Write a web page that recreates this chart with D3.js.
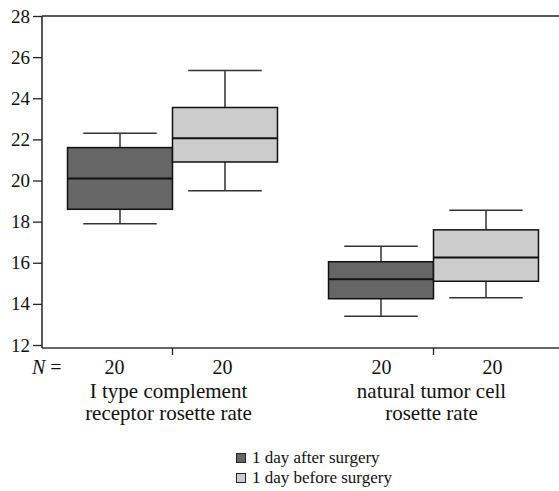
<!DOCTYPE html>
<html>
<head>
<meta charset="utf-8">
<script src="https://cdn.jsdelivr.net/npm/d3@7"></script>
<style>
html,body{margin:0;padding:0;background:#fff;overflow:hidden;}
svg{display:block;overflow:hidden;}
svg text{font-family:"Liberation Serif","DejaVu Serif","Times New Roman",Times,serif;}
</style>
</head>
<body>
<svg id="chart" width="559" height="491"></svg>
<script>
const categories = ["I type complement\nreceptor rosette rate", "natural tumor cell\nrosette rate"];
const seriesNames = ["1 day after surgery", "1 day before surgery"];
const seriesColors = ["#666666", "#cccccc"];
// [whiskerLow, Q1, median, Q3, whiskerHigh] per category
const afterSurgery = [[17.9, 18.6, 20.1, 21.6, 22.3], [13.4, 14.25, 15.2, 16.05, 16.8]];
const beforeSurgery = [[19.5, 20.9, 22.05, 23.55, 25.35], [14.3, 15.1, 16.25, 17.6, 18.55]];
const counts = [[20, 20], [20, 20]];
const yTicks = [12, 14, 16, 18, 20, 22, 24, 26, 28];

(function () {
const FONT = "Liberation Serif, DejaVu Serif, Times New Roman, serif";
const svg = d3.select("#chart");
const mLeft = 42, mRight = 564, mTop = 16, mBottom = 345, axisY = 348;

const x = d3.scaleBand().domain(categories).range([mLeft, mRight]).padding(0);
const xs = d3.scaleBand().domain([0, 1]).range([0, x.bandwidth()]).paddingInner(0).paddingOuter(0.243);
const y = d3.scaleLinear().domain([12, 28]).range([mBottom, mTop]);

const data = [afterSurgery, beforeSurgery];

svg.append("path").attr("d", `M${mLeft},${y(28)}H620`)
  .attr("stroke", "#222").attr("stroke-width", 1.5).attr("fill", "none");
svg.append("path").attr("d", `M${mLeft},${axisY}H620`)
  .attr("stroke", "#333").attr("stroke-width", 1.5).attr("fill", "none");

const yAxis = svg.append("g").attr("transform", `translate(${mLeft},0)`)
  .call(d3.axisLeft(y).tickValues(yTicks).tickSize(9).tickPadding(3).tickFormat(d3.format("d")));
yAxis.attr("font-family", FONT);
yAxis.select(".domain").remove();
yAxis.selectAll(".tick line").attr("stroke", "#222").attr("stroke-width", 1.3);
yAxis.selectAll(".tick text").attr("font-size", 19).attr("fill", "#111")
  .attr("font-family", FONT);
svg.append("line").attr("x1", mLeft).attr("x2", mLeft).attr("y1", y(28)).attr("y2", axisY)
  .attr("stroke", "#222").attr("stroke-width", 1.5);

const xAxis = svg.append("g").attr("transform", `translate(0,${axisY})`)
  .call(d3.axisBottom(x).tickSize(7).tickFormat(""));
xAxis.select(".domain").remove();
xAxis.selectAll(".tick line").attr("stroke", "#222").attr("stroke-width", 1.3);

const countOffsets = [[-58, 50], [-52, 59]];
categories.forEach((cat, ci) => {
  const mid = x(cat) + x.bandwidth() / 2;
  data.forEach((series, si) => {
    const v = series[ci];
    const x0 = x(cat) + xs(si);
    const w = xs.bandwidth();
    const cx = x0 + w / 2;
    const capW = w * 0.7;
    const g = svg.append("g");
    g.append("line").attr("x1", cx).attr("x2", cx).attr("y1", y(v[4])).attr("y2", y(v[3]))
      .attr("stroke", "#333").attr("stroke-width", 1.5);
    g.append("line").attr("x1", cx).attr("x2", cx).attr("y1", y(v[1])).attr("y2", y(v[0]))
      .attr("stroke", "#333").attr("stroke-width", 1.5);
    g.append("line").attr("x1", cx - capW / 2).attr("x2", cx + capW / 2).attr("y1", y(v[4])).attr("y2", y(v[4]))
      .attr("stroke", "#333").attr("stroke-width", 1.5);
    g.append("line").attr("x1", cx - capW / 2).attr("x2", cx + capW / 2).attr("y1", y(v[0])).attr("y2", y(v[0]))
      .attr("stroke", "#333").attr("stroke-width", 1.5);
    g.append("rect").attr("x", x0).attr("y", y(v[3])).attr("width", w).attr("height", y(v[1]) - y(v[3]))
      .attr("fill", seriesColors[si]).attr("stroke", "#111").attr("stroke-width", 1.5);
    g.append("line").attr("x1", x0).attr("x2", x0 + w).attr("y1", y(v[2])).attr("y2", y(v[2]))
      .attr("stroke", "#111").attr("stroke-width", 2);
    svg.append("text").attr("x", mid + countOffsets[ci][si]).attr("y", 374).attr("text-anchor", "middle")
      .attr("font-family", FONT).attr("font-size", 20).attr("fill", "#111").text(counts[ci][si]);
  });
  const lines = cat.split("\n");
  const t = svg.append("text").attr("text-anchor", "middle").attr("font-family", FONT)
    .attr("font-size", 21).attr("fill", "#111");
  lines.forEach((ln, li) => {
    t.append("tspan").attr("x", mid - 4 + ci * 2).attr("y", 398 + li * 22).text(ln);
  });
});

const nt = svg.append("text").attr("x", 32).attr("y", 374).attr("font-family", FONT)
  .attr("font-size", 20).attr("fill", "#111");
nt.append("tspan").attr("font-style", "italic").text("N");
nt.append("tspan").text(" =");

seriesNames.forEach((name, i) => {
  const ly = 463 + i * 20;
  svg.append("rect").attr("x", 236.5).attr("y", ly - 9.5).attr("width", 9).attr("height", 9)
    .attr("fill", seriesColors[i]).attr("stroke", "#222").attr("stroke-width", 1);
  svg.append("text").attr("x", 252).attr("y", ly).attr("font-family", FONT)
    .attr("font-size", 17).attr("fill", "#111").text(name);
});
})();
</script>
</body>
</html>
